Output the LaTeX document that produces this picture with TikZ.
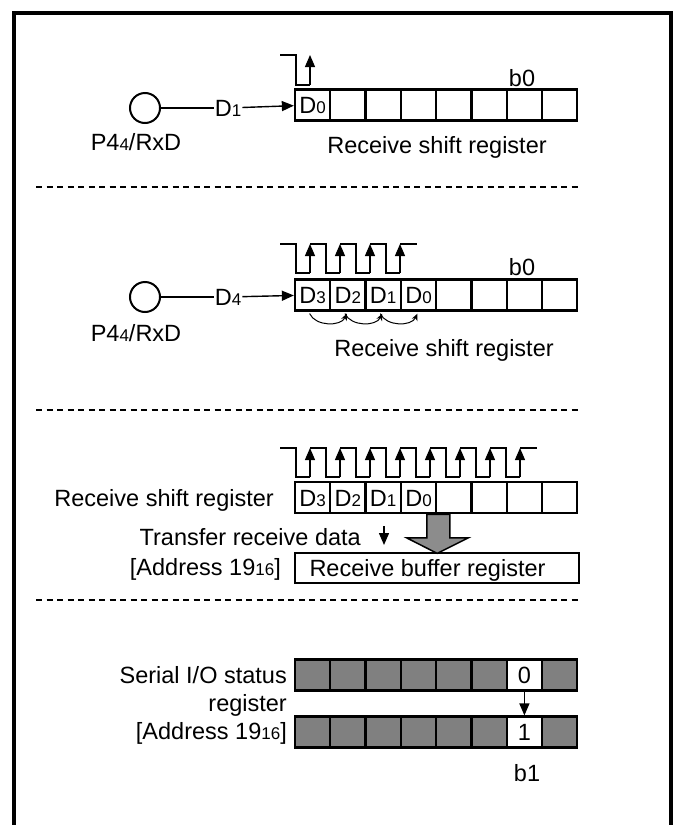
\documentclass[tikz,border=0pt]{standalone}
\usepackage{fontspec}
\setmainfont{Liberation Sans}
\usetikzlibrary{arrows.meta, positioning, calc}
\definecolor{statgray}{RGB}{128,128,128}
\definecolor{bigarrow}{RGB}{140,140,140}

\newcommand{\subdig}[1]{{\fontsize{17}{18}\selectfont #1}}

\tikzset{
  regcell/.style={draw, line width=2.2pt, minimum width=35.3pt, minimum height=31pt, inner sep=0pt},
  statcell/.style={regcell, fill=statgray},
  pin/.style={circle, draw, line width=2pt, minimum size=30pt, inner sep=0pt},
  wire/.style={line width=1.4pt},
  wirearrow/.style={wire, -{Triangle[length=12pt, width=10pt]}},
  clk/.style={line width=1.3pt},
  clkedge/.style={clk, -{Triangle[length=12pt, width=10pt]}},
  shiftarc/.style={line width=1pt, -{Stealth[length=7pt, width=6pt]}},
  divider/.style={line width=2.2pt, dash pattern=on 6pt off 4.5pt},
}

\begin{document}
\begin{tikzpicture}[x=1pt, y=-1pt, every node/.style={font=\fontsize{23.5}{27}\selectfont, inner sep=1pt, text height=16.8pt, text depth=0pt}]
  \useasboundingbox (0,0) rectangle (676,825);

  % Frame (open at the bottom)
  \draw[line width=4.5pt] (14,825) -- (14,13) -- (671,13) -- (671,825);

  % Step 1: first bit arrives
  \node[pin] (pina) at (145,108) {};
  \node (pinalbl) at (136,142) {P4\subdig{4}/RxD};
  \node (dina) at (228,108) {D\subdig{1}};
  \foreach \i in {0,...,7}
    \node[regcell] (ra\i) at ({312.6+35.3*\i},105) {};
  \node (ra0txt) at (ra0) {D\subdig{0}};
  \node (rab0) at (522,78) {b0};
  \node (ralbl) at (437,145) {Receive shift register};
  \draw[wire] (pina) -- (dina);
  \draw[wirearrow] (dina) -- (ra0);
  \draw[clk] (280,55) -- (296,55) -- (296,85) -- (310,85);
  \draw[clkedge] (310,85) -- (310,55);

  \draw[divider] (36,187) -- (578,187);

  % Step 2: bits shift in
  \node[pin] (pinb) at (145,297) {};
  \node (pinblbl) at (136,333) {P4\subdig{4}/RxD};
  \node (dinb) at (228,297) {D\subdig{4}};
  \foreach \i in {0,...,7}
    \node[regcell] (rb\i) at ({312.6+35.3*\i},295) {};
  \foreach \i/\d in {0/3,1/2,2/1,3/0}
    \node (rb\i txt) at (rb\i) {D\subdig{\d}};
  \node (rbb0) at (522,267) {b0};
  \node (rblbl) at (444,348) {Receive shift register};
  \draw[wire] (pinb) -- (dinb);
  \draw[wirearrow] (dinb) -- (rb0);
  \foreach \k in {0,...,3} {
    \draw[clk] ({280+30*\k},244) -- ({296+30*\k},244) -- ({296+30*\k},273) -- ({310+30*\k},273);
    \draw[clkedge] ({310+30*\k},273) -- ({310+30*\k},244);
  }
  \draw[clk] (400,244) -- (417,244);
  \foreach \i/\j in {0/1,1/2,2/3}
    \draw[shiftarc] ([xshift=-3pt, yshift=-2pt]rb\i.south) .. controls +(6,13) and +(-6,13) .. ([xshift=-1pt, yshift=-2pt]rb\j.south);

  \draw[divider] (36,410) -- (578,410);

  % Step 3: transfer to the buffer register
  \foreach \i in {0,...,7}
    \node[regcell] (rc\i) at ({312.6+35.3*\i},497.8) {};
  \foreach \i/\d in {0/3,1/2,2/1,3/0}
    \node (rc\i txt) at (rc\i) {D\subdig{\d}};
  \node[anchor=east] (rclbl) at (275,497.8) {Receive shift register};
  \foreach \k in {0,...,7} {
    \draw[clk] ({280+30*\k},448) -- ({296+30*\k},448) -- ({296+30*\k},477) -- ({310+30*\k},477);
    \draw[clkedge] ({310+30*\k},477) -- ({310+30*\k},448);
  }
  \draw[clk] (520,448) -- (537,448);
  \node[regcell, minimum width=283.5pt, minimum height=30pt] (rbuf) at (437,568.3) {};
  \node (rbuftxt) at (427.5,568.3) {Receive buffer register};
  \node[anchor=east] (rbuflbl) at (282,567) {[Address 19\subdig{16}]};
  \node[anchor=east] (xferlbl) at (362,537) {Transfer receive data};
  \coordinate (xfertop) at (384,526);
  \coordinate (xferbot) at (384,545);
  \draw[wirearrow] (xfertop) -- (xferbot);
  \coordinate (gt) at (rc3.south east);
  \filldraw[fill=bigarrow, line width=1.5pt] ($(gt)+(-10.5,0)$) -- ($(gt)+(-10.5,23.5)$) -- ($(gt)+(-30.5,23.5)$)
    -- ($(gt)+(0,39)$) -- ($(gt)+(31,23.5)$) -- ($(gt)+(12.5,23.5)$) -- ($(gt)+(12.5,0)$) -- cycle;

  \draw[divider] (36,600) -- (578,600);

  % Step 4: status flag set
  \foreach \i in {0,...,5,7} {
    \node[statcell] (sa\i) at ({312.6+35.3*\i},675) {};
    \node[statcell] (sb\i) at ({312.6+35.3*\i},732) {};
  }
  \node[regcell, fill=white] (sa6) at ({312.6+35.3*6},675) {0};
  \node[regcell, fill=white] (sb6) at ({312.6+35.3*6},732) {1};
  \draw[wirearrow] (sa6) -- (sb6);
  \node (sbb1) at (527,773) {b1};
  \node[anchor=east] (sioa) at (288,675) {Serial I/O status};
  \node[anchor=east] (siob) at (288,703) {register};
  \node[anchor=east] (sioc) at (288,731) {[Address 19\subdig{16}]};
\end{tikzpicture}
\end{document}
